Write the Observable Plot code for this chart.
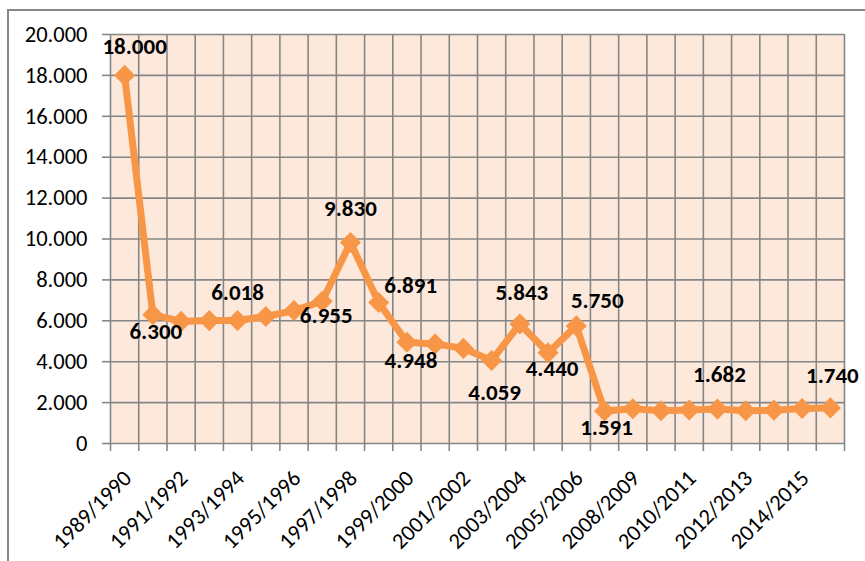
<!DOCTYPE html>
<html><head><meta charset="utf-8">
<script src="https://cdn.jsdelivr.net/npm/d3@7"></script>
<script src="https://cdn.jsdelivr.net/npm/@observablehq/plot@0.6"></script>
<style>
html,body{margin:0;padding:0;background:#fff;}
#wrap{position:relative;width:865px;height:561px;overflow:hidden;}
#frame{position:absolute;left:7px;top:9px;width:900px;height:600px;border-left:2px solid #868686;border-top:2px solid #868686;}
#chart{position:absolute;left:0;top:0;}
</style></head><body><div id="wrap"><div id="frame"></div><div id="chart"></div></div>
<script>
const categories = ["1989/1990","1990/1991","1991/1992","1992/1993","1993/1994","1994/1995","1995/1996","1996/1997","1997/1998","1998/1999","1999/2000","2000/2001","2001/2002","2002/2003","2003/2004","2004/2005","2005/2006","2006/2007","2008/2009","2009/2010","2010/2011","2011/2012","2012/2013","2013/2014","2014/2015","2015/2016"];
const values = [18000, 6300, 5970, 6010, 6018, 6210, 6500, 6955, 9830, 6891, 4948, 4870, 4650, 4059, 5843, 4440, 5750, 1591, 1700, 1600, 1640, 1682, 1600, 1630, 1710, 1740];
const labeledIdx = [0, 1, 4, 7, 8, 9, 10, 13, 14, 15, 16, 17, 21, 25];
const yTicks = [0, 2000, 4000, 6000, 8000, 10000, 12000, 14000, 16000, 18000, 20000];

const fmt = d3.formatLocale({decimal: ",", thousands: ".", grouping: [3], currency: ["", ""]}).format(",");
const fmt3 = v => (v / 1000).toFixed(3);

// label placement (pixels) relative to its point
const labelOffset = {0:[10,-29],1:[3,17],4:[0,-28],7:[4,14],8:[0,-34],9:[32,-17],10:[4,18],13:[3,32],14:[2,-31],15:[4,16],16:[21,-25],17:[2,17],21:[2,-34],25:[2,-32]};

const idx = d3.range(categories.length);
const data = idx.map(i => ({i, v: values[i]}));
const boundaries = d3.range(categories.length + 1).map(i => i - 0.5);
const gray = "#868686";
const orange = "#F79646";

const labelMarks = labeledIdx.map(i => Plot.text([data[i]], {
  x: "i", y: "v", text: d => fmt3(d.v),
  dx: labelOffset[i][0], dy: labelOffset[i][1],
  fontWeight: "bold", fontSize: 23, fill: "#000"
}));

const chart = Plot.plot({
  width: 865, height: 561,
  marginLeft: 110, marginRight: 21, marginTop: 34, marginBottom: 118,
  style: {fontFamily: "Carlito, Lato, 'Open Sans', sans-serif", fontSize: "22.5px", background: "transparent", overflow: "visible"},
  x: {type: "linear", domain: [-0.5, categories.length - 0.5]},
  y: {domain: [0, 20000]},
  marks: [
    Plot.frame({fill: "#FDE9DC", stroke: null}),
    Plot.ruleY(yTicks, {stroke: gray, strokeWidth: 1.6}),
    Plot.ruleX(boundaries, {stroke: gray, strokeWidth: 1.6}),
    Plot.axisY({ticks: yTicks, tickSize: 8, tickPadding: 15, tickFormat: fmt, stroke: gray, strokeWidth: 1.6, fill: "#000", fontSize: 22.5, label: null}),
    Plot.axisX({ticks: boundaries, tickSize: 8, tickFormat: () => "", stroke: gray, strokeWidth: 1.6, label: null}),
    Plot.axisX({ticks: idx.filter(i => i % 2 === 0), tickSize: 0, tickPadding: 31, tickRotate: -45, tickFormat: i => categories[i], fill: "#000", fontSize: 22.5, dx: 3, label: null}),
    Plot.line(data, {x: "i", y: "v", stroke: orange, strokeWidth: 7, strokeLinejoin: "round"}),
    Plot.dot(data, {x: "i", y: "v", symbol: "diamond2", r: 9.5, fill: orange, stroke: null}),
    ...labelMarks
  ]
});
document.getElementById("chart").appendChild(chart);
</script>
</body></html>
